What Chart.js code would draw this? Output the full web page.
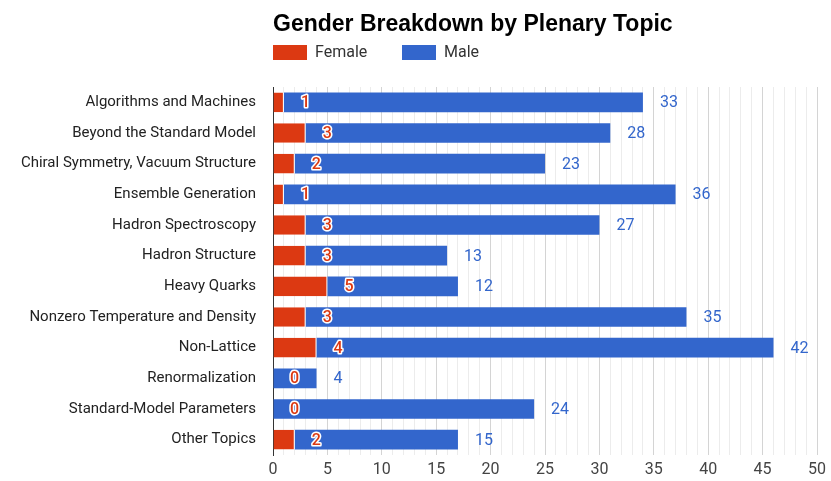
<!DOCTYPE html>
<html>
<head>
<meta charset="utf-8">
<script src="https://cdn.jsdelivr.net/npm/chart.js@4"></script>
<style>
  html, body { margin: 0; padding: 0; background: #fff; }
  #wrap { width: 831px; height: 481px; }
</style>
</head>
<body>
<div id="wrap"><canvas id="topicChart" width="831" height="481"></canvas></div>
<script>
// Plenary topics and speaker counts
const topics = [
  "Algorithms and Machines",
  "Beyond the Standard Model",
  "Chiral Symmetry, Vacuum Structure",
  "Ensemble Generation",
  "Hadron Spectroscopy",
  "Hadron Structure",
  "Heavy Quarks",
  "Nonzero Temperature and Density",
  "Non-Lattice",
  "Renormalization",
  "Standard-Model Parameters",
  "Other Topics"
];
const femaleCounts = [1, 3, 2, 1, 3, 3, 5, 3, 4, 0, 0, 2];
const maleCounts = [33, 28, 23, 36, 27, 13, 12, 35, 42, 4, 24, 15];
const axisMax = 50;
const chartTitle = "Gender Breakdown by Plenary Topic";

const RED = "#dc3912";
const BLUE = "#3366cc";
const FONT = "Roboto, 'Liberation Sans', Arial, sans-serif";
const TITLE_FONT = "'Liberation Sans', Arial, sans-serif";

// Title + legend drawn above the plot, aligned with the plot's left edge
const headerPlugin = {
  id: "header",
  afterDraw(chart) {
    const ctx = chart.ctx;
    const left = chart.chartArea.left;
    ctx.save();
    ctx.fillStyle = "#000";
    ctx.font = "bold 23px " + TITLE_FONT;
    ctx.textBaseline = "alphabetic";
    ctx.textAlign = "left";
    ctx.fillText(chartTitle, left, 31);

    ctx.textBaseline = "middle";
    ctx.font = "16px " + FONT;
    let x = left;
    chart.data.datasets.forEach(ds => {
      ctx.fillStyle = ds.backgroundColor;
      ctx.fillRect(x, 45, 34, 15);
      ctx.fillStyle = "#333";
      ctx.fillText(ds.label, x + 42, 53);
      x += 129;
    });
    ctx.restore();
  }
};

// Value annotations: female count just past the red segment, male count past the whole bar
const valueLabelPlugin = {
  id: "valueLabels",
  afterDatasetsDraw(chart) {
    const ctx = chart.ctx;
    const fMeta = chart.getDatasetMeta(0);
    const mMeta = chart.getDatasetMeta(1);
    ctx.save();
    ctx.textBaseline = "middle";
    ctx.textAlign = "left";
    fMeta.data.forEach((bar, i) => {
      const txt = String(femaleCounts[i]);
      ctx.font = "500 16px " + FONT;
      ctx.lineWidth = 3;
      ctx.strokeStyle = "#fff";
      ctx.lineJoin = "round";
      ctx.strokeText(txt, bar.x + 17, bar.y + 1);
      ctx.fillStyle = RED;
      ctx.fillText(txt, bar.x + 17, bar.y + 1);
    });
    mMeta.data.forEach((bar, i) => {
      ctx.font = "16px " + FONT;
      ctx.fillStyle = BLUE;
      ctx.fillText(String(maleCounts[i]), bar.x + 17, bar.y + 1);
    });
    ctx.restore();
  }
};

new Chart(document.getElementById("topicChart").getContext("2d"), {
  type: "bar",
  data: {
    labels: topics,
    datasets: [
      {
        label: "Female",
        data: femaleCounts,
        backgroundColor: RED,
        borderColor: "#fff",
        borderWidth: { right: 1 },
        borderSkipped: false,
        barPercentage: 0.64,
        categoryPercentage: 1
      },
      {
        label: "Male",
        data: maleCounts,
        backgroundColor: BLUE,
        barPercentage: 0.64,
        categoryPercentage: 1
      }
    ]
  },
  options: {
    indexAxis: "y",
    responsive: false,
    animation: false,
    layout: { padding: { top: 87, right: 11, bottom: 0, left: 0 } },
    plugins: {
      legend: { display: false },
      title: { display: false },
      tooltip: { enabled: false }
    },
    scales: {
      x: {
        stacked: true,
        min: 0,
        max: axisMax,
        afterFit: s => { s.height = 24; },
        border: { display: false },
        grid: {
          drawTicks: false,
          color: c => (c.tick && c.tick.value % 5 === 0) ? "#d4d4d4" : "#ececec"
        },
        ticks: {
          stepSize: 1,
          autoSkip: false,
          maxRotation: 0,
          padding: 5,
          color: "#444",
          font: { family: FONT, size: 16 },
          callback: v => (v % 5 === 0 ? v : "")
        }
      },
      y: {
        stacked: true,
        afterFit: s => { s.width = 273; },
        border: { display: true, color: "#333", width: 1 },
        grid: { display: false, drawTicks: false },
        ticks: {
          padding: 17,
          color: "#222",
          font: { family: FONT, size: 15 }
        }
      }
    }
  },
  plugins: [headerPlugin, valueLabelPlugin]
});
</script>
</body>
</html>
